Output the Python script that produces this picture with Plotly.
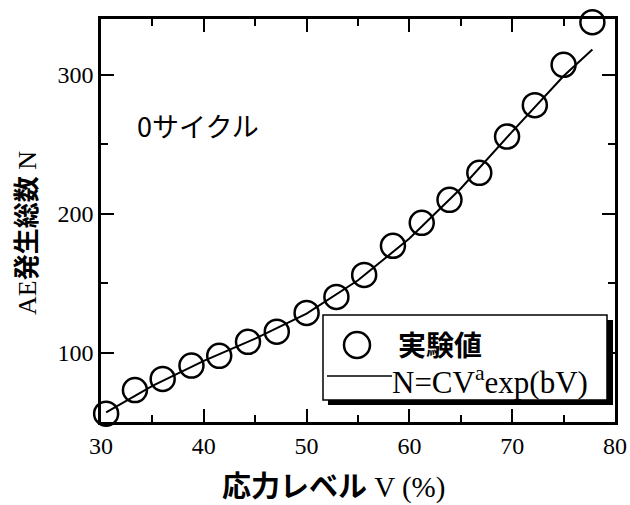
import plotly.graph_objects as go

stress_v = [30.5, 33.3, 36.0, 38.8, 41.5, 44.3, 47.1, 50.0, 52.9, 55.6,
            58.4, 61.2, 63.9, 66.8, 69.5, 72.2, 75.0, 77.8]
ae_count = [56, 73, 81, 90.6, 97.6, 107.7, 115, 128.5, 140, 155.8,
            176.8, 193.3, 209.9, 229.3, 255.4, 278, 307, 337.7]

# Fitted curve N = C V^a exp(bV)
fit_v = [30.5, 35, 40, 45, 50, 55, 60, 65, 70, 75, 77.8]
fit_n = [57, 76, 94, 110, 128, 152, 182, 218, 259, 299, 318]

x_ticks = [30, 40, 50, 60, 70, 80]
y_ticks = [100, 200, 300]

SERIF = "Liberation Serif, Noto Sans CJK JP"
CJK = "Noto Sans CJK JP, Liberation Serif"

fig = go.Figure()
fig.add_trace(go.Scatter(x=fit_v, y=fit_n, mode="lines",
                         line=dict(color="black", width=2),
                         showlegend=False, cliponaxis=False))
fig.add_trace(go.Scatter(x=stress_v, y=ae_count, mode="markers",
                         marker=dict(symbol="circle-open", size=24,
                                     color="black", line=dict(width=2.5, color="black")),
                         showlegend=False, cliponaxis=False))

axis_common = dict(showline=True, linecolor="black", linewidth=2.5, mirror="allticks",
                   ticks="inside", ticklen=13, tickwidth=2, tickcolor="black",
                   showgrid=False, zeroline=False, automargin=False,
                   tickfont=dict(family=SERIF, size=24, color="black"))

fig.update_xaxes(range=[30, 80], tickvals=x_ticks,
                 minor=dict(dtick=5, tick0=30, ticks="inside", ticklen=7, tickwidth=2,
                            tickcolor="black", showgrid=False),
                 **axis_common)
fig.update_yaxes(range=[50, 340], tickvals=y_ticks,
                 minor=dict(dtick=50, tick0=50, ticks="inside", ticklen=7, tickwidth=2,
                            tickcolor="black", showgrid=False),
                 **axis_common)

# paper coords helpers (plot area x 101..615, y 19..422 in pixels)
def px_x(p):
    return (p - 101) / (615 - 101)

def px_y(p):
    return (422 - p) / (422 - 19)

annotations = [
    dict(text="AE<b>発生総数</b> N", xref="paper", yref="paper",
         x=px_x(27), y=px_y(233), textangle=-90, showarrow=False,
         font=dict(family=SERIF, size=26, color="black"), xanchor="center", yanchor="middle"),
    dict(text="<b>応力レベル</b> V (%)", xref="paper", yref="paper",
         x=px_x(333), y=px_y(487), showarrow=False,
         font=dict(family=SERIF, size=29, color="black"), xanchor="center", yanchor="middle"),
    dict(text="0サイクル", xref="paper", yref="paper",
         x=px_x(198), y=px_y(125), showarrow=False,
         font=dict(family=CJK, size=27, color="black"), xanchor="center", yanchor="middle"),
    # legend texts
    dict(text="<b>実験値</b>", xref="paper", yref="paper",
         x=px_x(396), y=px_y(344), showarrow=False,
         font=dict(family=CJK, size=28, color="black"), xanchor="left", yanchor="middle"),
    dict(text="N=CV<sup>a</sup>exp(bV)", xref="paper", yref="paper",
         x=px_x(390), y=px_y(380), showarrow=False,
         font=dict(family=SERIF, size=31, color="black"), xanchor="left", yanchor="middle"),
]

shapes = [
    # shadow
    dict(type="rect", xref="paper", yref="paper",
         x0=px_x(328), x1=px_x(613), y0=px_y(405), y1=px_y(320),
         fillcolor="black", line=dict(width=0)),
    # box
    dict(type="rect", xref="paper", yref="paper",
         x0=px_x(323), x1=px_x(607), y0=px_y(400), y1=px_y(315),
         fillcolor="white", line=dict(color="black", width=1.5)),
    # legend marker
    dict(type="circle", xref="paper", yref="paper",
         x0=px_x(344), x1=px_x(370), y0=px_y(358), y1=px_y(332),
         line=dict(color="black", width=2.5)),
    # legend line
    dict(type="line", xref="paper", yref="paper",
         x0=px_x(327), x1=px_x(392), y0=px_y(376), y1=px_y(376),
         line=dict(color="black", width=1.5)),
]

fig.update_layout(width=630, height=505, margin=dict(l=101, r=15, t=19, b=83),
                  paper_bgcolor="white", plot_bgcolor="white",
                  annotations=annotations, shapes=shapes, showlegend=False)

fig.write_html("out.html")
